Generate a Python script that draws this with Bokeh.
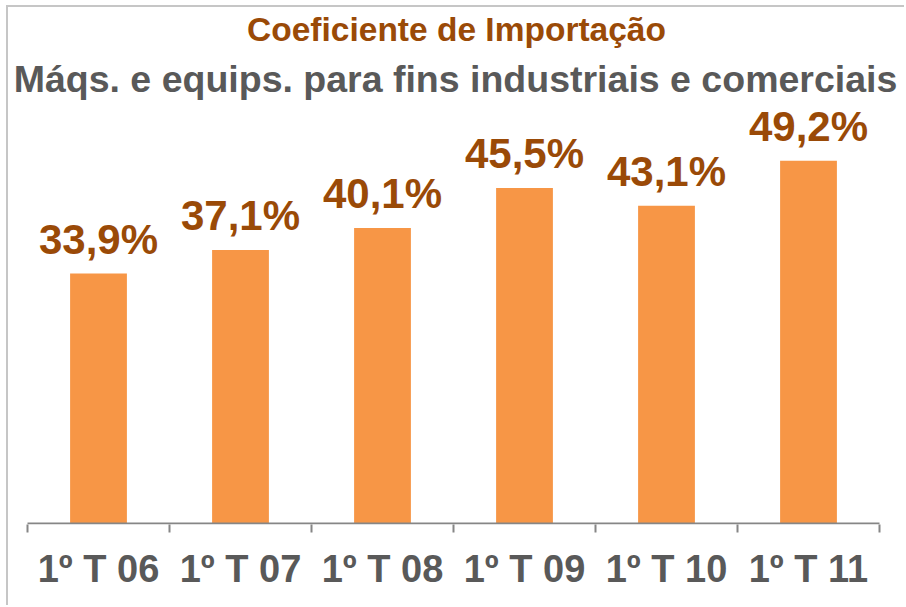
from bokeh.plotting import figure
from bokeh.models import (ColumnDataSource, Range1d, FixedTicker, LinearAxis,
                          LabelSet, Label)
from bokeh.core.properties import value
from bokeh.embed import file_html
from bokeh.resources import INLINE

categories = ["1º T 06", "1º T 07", "1º T 08", "1º T 09", "1º T 10", "1º T 11"]
values = [33.9, 37.1, 40.1, 45.5, 43.1, 49.2]
value_labels = ["33,9%", "37,1%", "40,1%", "45,5%", "43,1%", "49,2%"]
title_line1 = "Coeficiente de Importação"
title_line2 = "Máqs. e equips. para fins industriais e comerciais"

FONT = "Liberation Sans"
BAR = "#F79646"
BROWN = "#9A4A07"
GRAY = "#595959"
AXIS = "#868686"

n = len(categories)
# layout: figure content 898 px wide, categories occupy 852 px (142 each)
cat_px = 142.0
pad_left_px, pad_right_px = 19.0, 27.0
x_start = -pad_left_px / cat_px
x_end = n + pad_right_px / cat_px
y_px_per_unit = 516.0 / 70.0
y_start = -1.0 / y_px_per_unit

x_pos = [i + 0.5 for i in range(n)]
src = ColumnDataSource(dict(x=x_pos, top=values, lab=value_labels))

p = figure(width=898, height=600, output_backend="svg", toolbar_location=None,
           x_range=Range1d(x_start, x_end), y_range=Range1d(y_start, 70),
           x_axis_location=None, y_axis_location=None,
           min_border_left=0, min_border_right=0, min_border_top=0,
           min_border_bottom=83)
p.styles = {"margin-left": "6px", "margin-top": "5px",
            "border-left": "2px solid #C6C6C6",
            "border-top": "2px solid #C6C6C6"}
p.outline_line_color = None
p.xgrid.visible = False
p.ygrid.visible = False
p.background_fill_color = "white"
p.border_fill_color = "white"

p.vbar(x="x", top="top", bottom=0, width=0.4, source=src, fill_color=BAR,
       line_color=None)

# baseline of the category axis, from first to last category boundary
p.segment(x0=[0], y0=[0], x1=[n], y1=[0], line_color=AXIS, line_width=2)

p.add_layout(LabelSet(x="x", y="top", text="lab", source=src, y_offset=20,
                      text_align="center", text_baseline="alphabetic",
                      text_font=value(FONT), text_font_size="42px",
                      text_font_style="bold", text_color=BROWN))

xaxis = LinearAxis(ticker=FixedTicker(ticks=x_pos,
                                       minor_ticks=list(range(n + 1))))
xaxis.major_label_overrides = {x: c for x, c in zip(x_pos, categories)}
xaxis.major_tick_line_color = None
xaxis.major_tick_out = 0
xaxis.major_tick_in = 0
xaxis.minor_tick_out = 8
xaxis.minor_tick_in = 0
xaxis.minor_tick_line_color = AXIS
xaxis.minor_tick_line_width = 2
xaxis.axis_line_color = None
xaxis.major_label_standoff = 15
xaxis.major_label_text_font = FONT
xaxis.major_label_text_font_size = "38px"
xaxis.major_label_text_font_style = "bold"
xaxis.major_label_text_color = GRAY
p.add_layout(xaxis, "below")

p.add_layout(Label(x=448, y=495, x_units="screen", y_units="screen",
                   text=title_line1, text_align="center",
                   text_baseline="alphabetic", text_font=FONT,
                   text_font_size="33.5px", text_font_style="bold",
                   text_color=BROWN))
p.add_layout(Label(x=447, y=446, x_units="screen", y_units="screen",
                   text=title_line2, text_align="center",
                   text_baseline="alphabetic", text_font=FONT,
                   text_font_size="37.5px", text_font_style="bold",
                   text_color=GRAY))

open("out.html", "w").write(file_html(p, INLINE))
